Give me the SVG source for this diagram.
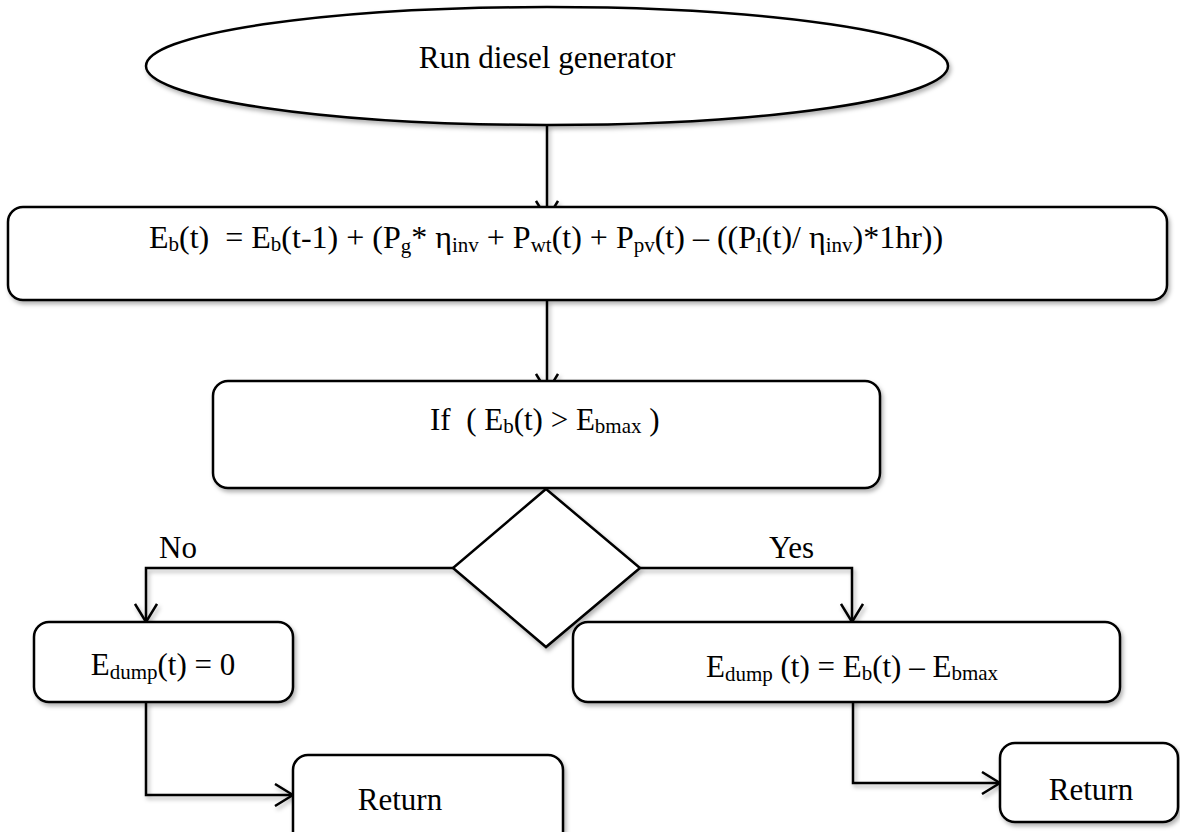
<svg xmlns="http://www.w3.org/2000/svg" width="1180" height="832" viewBox="0 0 1180 832">
  <style>
    .shape { fill: #ffffff; stroke: #000000; stroke-width: 2.5; }
    .line { fill: none; stroke: #000000; stroke-width: 2.5; stroke-linejoin: miter; }
    text { font-family: "Liberation Serif", "Times New Roman", serif; font-size: 31px; fill: #000000; white-space: pre; }
    .big { font-size: 32px; }
    .sub { font-size: 21px; }
    .soft { filter: url(#shadow); }
  </style>
  <defs>
    <filter id="shadow" x="-5%" y="-5%" width="115%" height="120%">
      <feDropShadow dx="2" dy="3" stdDeviation="2" flood-color="#000000" flood-opacity="0.3"/>
    </filter>
    <marker id="arrow" viewBox="0 0 20 24" refX="19" refY="12" markerWidth="20" markerHeight="24" markerUnits="userSpaceOnUse" orient="auto">
      <path d="M1,1 L19,12 L1,23" fill="none" stroke="#000000" stroke-width="2.5"/>
    </marker>
  </defs>

  <rect width="1180" height="832" fill="#ffffff"/>

  <!-- flow connectors -->
  <g id="connectors" class="soft">
    <path class="line" d="M547,125 L547,219" marker-end="url(#arrow)"/>
    <path class="line" d="M547,300 L547,392" marker-end="url(#arrow)"/>
    <path class="line" d="M453,568 L146,568 L146,622" marker-end="url(#arrow)"/>
    <path class="line" d="M640,568 L852,568 L852,622" marker-end="url(#arrow)"/>
    <path class="line" d="M146,702 L146,795 L293,795" marker-end="url(#arrow)"/>
    <path class="line" d="M853,690 L853,783 L1000,783" marker-end="url(#arrow)"/>
  </g>

  <g id="start">
    <ellipse class="shape soft" cx="547" cy="66" rx="401" ry="59"/>
    <text x="547" y="68" text-anchor="middle">Run diesel generator</text>
  </g>

  <g id="energy-balance">
    <rect class="shape soft" x="8" y="207" width="1159" height="93" rx="15"/>
    <text class="big" x="149" y="248">E<tspan class="sub" dy="3">b</tspan><tspan dy="-3">(t)  = E</tspan><tspan class="sub" dy="3">b</tspan><tspan dy="-3">(t-1) + (P</tspan><tspan class="sub" dy="5">g</tspan><tspan dy="-5">* η</tspan><tspan class="sub" dy="4">inv</tspan><tspan dy="-4"> + P</tspan><tspan class="sub" dy="4">wt</tspan><tspan dy="-4">(t) + P</tspan><tspan class="sub" dy="4">pv</tspan><tspan dy="-4">(t) – ((P</tspan><tspan class="sub" dy="4">l</tspan><tspan dy="-4">(t)/ η</tspan><tspan class="sub" dy="4">inv</tspan><tspan dy="-4">)*1hr))</tspan></text>
  </g>

  <g id="check-max">
    <rect class="shape soft" x="213" y="381" width="667" height="107" rx="15"/>
    <text x="430" y="430">If  ( E<tspan class="sub" dy="3">b</tspan><tspan dy="-3">(t) &gt; E</tspan><tspan class="sub" dy="3">bmax</tspan><tspan dy="-3"> )</tspan></text>
  </g>

  <g id="decision">
    <polygon class="shape soft" points="546,489 640,568 546,647 453,568"/>
  </g>

  <g id="labels">
    <text x="159" y="558">No</text>
    <text x="769" y="558">Yes</text>
  </g>

  <g id="no-dump">
    <rect class="shape soft" x="34" y="622" width="259" height="80" rx="15"/>
    <text x="163" y="675" text-anchor="middle">E<tspan class="sub" dy="4">dump</tspan><tspan dy="-4">(t) = 0</tspan></text>
  </g>

  <g id="dump">
    <rect class="shape soft" x="573" y="622" width="547" height="80" rx="15"/>
    <text x="852" y="677" text-anchor="middle">E<tspan class="sub" dy="4">dump</tspan><tspan dy="-4"> (t) = E</tspan><tspan class="sub" dy="3">b</tspan><tspan dy="-3">(t) – E</tspan><tspan class="sub" dy="3">bmax</tspan></text>
  </g>

  <g id="return-left">
    <rect class="shape soft" x="293" y="755" width="270" height="95" rx="15"/>
    <text x="400" y="810" text-anchor="middle">Return</text>
  </g>

  <g id="return-right">
    <rect class="shape soft" x="1000" y="743" width="178" height="79" rx="15"/>
    <text x="1091" y="800" text-anchor="middle">Return</text>
  </g>
</svg>
